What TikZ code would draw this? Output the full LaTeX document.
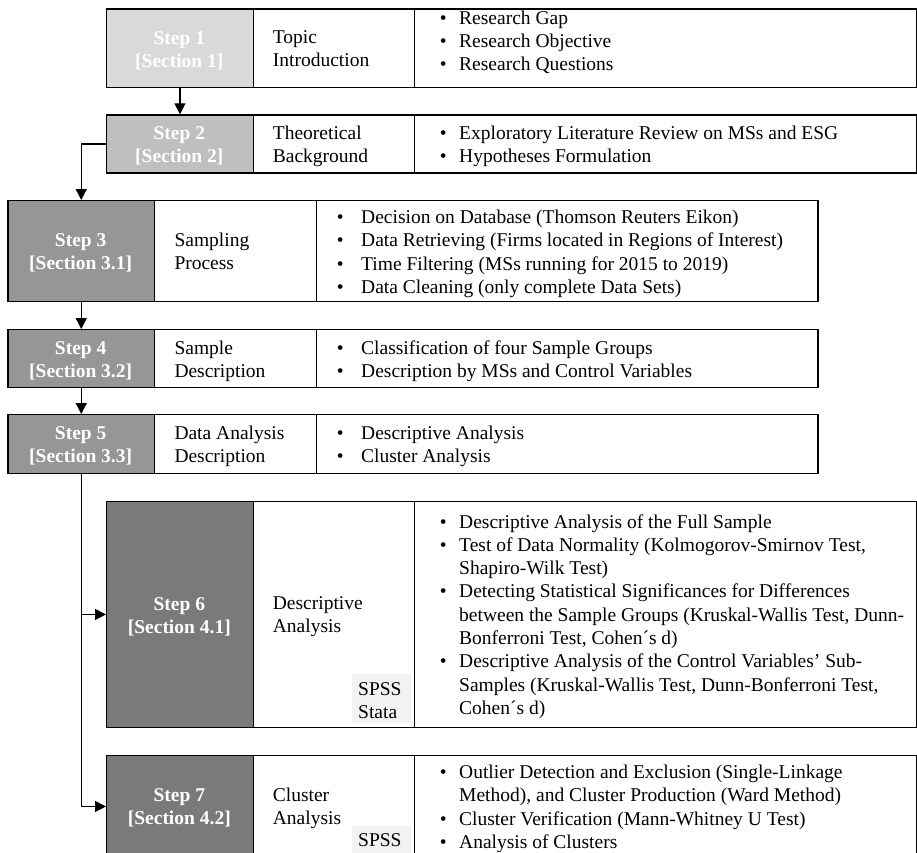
\documentclass[tikz,border=0pt]{standalone}
\usepackage{fontspec}
\setmainfont{Liberation Serif}
\usetikzlibrary{arrows.meta}
\definecolor{gA}{HTML}{D9D9D9}
\definecolor{gB}{HTML}{BFBFBF}
\definecolor{gC}{HTML}{969696}
\definecolor{gD}{HTML}{7A7A7A}
\definecolor{gS}{HTML}{F2F2F2}
\newcommand\fs{\fontsize{19.5}{23.3}\selectfont}
\newcommand\bul[1]{\makebox[#1][l]{•}}
\newcommand\ind[1]{\hspace*{#1}}
\begin{document}
\begin{tikzpicture}[x=1pt,y=-1pt,
  cell/.style={draw=black, line width=1.2pt, inner sep=0pt, anchor=north west},
  steplbl/.style={text=white, font=\fs\bfseries, anchor=base, inner sep=0pt},
  desc/.style={font=\fs, anchor=base west, inner sep=0pt},
  tool/.style={fill=gS, inner sep=0pt, anchor=north west},
  conn/.style={line width=1.3pt, -{Triangle[length=11pt,width=11pt]}}]
\useasboundingbox (0,0) rectangle (917,852);
\clip (0,0) rectangle (917,852);
% ---------- Row 1
\node[cell, fill=gA, minimum width=146.7pt, minimum height=78.4pt] (s1) at (106,8.3) {};
\node[cell, minimum width=161.3pt, minimum height=78.4pt] (d1) at (252.7,8.3) {};
\node[cell, minimum width=501.7pt, minimum height=78.4pt] (l1) at (414,8.3) {};
\node[steplbl] (t1) at (179.3,44) {\begin{tabular}[t]{@{}c@{}}Step 1\\{[Section 1]}\end{tabular}};
\node[desc] (c1) at (272.7,43) {\begin{tabular}[t]{@{}l@{}}Topic\\Introduction\end{tabular}};
\node[desc] (i1) at (439.6,24) {\begin{tabular}[t]{@{}l@{}}\bul{19.4pt}Research Gap\\\bul{19.4pt}Research Objective\\\bul{19.4pt}Research Questions\end{tabular}};
% ---------- Row 2
\node[cell, fill=gB, minimum width=146.7pt, minimum height=58pt] (s2) at (106,114.3) {};
\node[cell, minimum width=161.3pt, minimum height=58pt] (d2) at (252.7,114.3) {};
\node[cell, minimum width=501.7pt, minimum height=58pt] (l2) at (414,114.3) {};
\node[steplbl] (t2) at (179.3,139) {\begin{tabular}[t]{@{}c@{}}Step 2\\{[Section 2]}\end{tabular}};
\node[desc] (c2) at (272.7,139) {\begin{tabular}[t]{@{}l@{}}Theoretical\\Background\end{tabular}};
\node[desc] (i2) at (439.6,139) {\begin{tabular}[t]{@{}l@{}}\bul{19.4pt}Exploratory Literature Review on MSs and ESG\\\bul{19.4pt}Hypotheses Formulation\end{tabular}};
% ---------- Row 3
\node[cell, fill=gC, minimum width=146.7pt, minimum height=101pt] (s3) at (7.3,200) {};
\node[cell, minimum width=162pt, minimum height=101pt] (d3) at (154,200) {};
\node[cell, minimum width=501.3pt, minimum height=101pt] (l3) at (316,200) {};
\node[steplbl] (t3) at (80.65,246.5) {\begin{tabular}[t]{@{}c@{}}Step 3\\{[Section 3.1]}\end{tabular}};
\node[desc] (c3) at (174.3,246.5) {\begin{tabular}[t]{@{}l@{}}Sampling\\Process\end{tabular}};
\node[desc] (i3) at (336.6,223.5) {\begin{tabular}[t]{@{}l@{}}\bul{24.4pt}Decision on Database (Thomson Reuters Eikon)\\\bul{24.4pt}Data Retrieving (Firms located in Regions of Interest)\\\bul{24.4pt}Time Filtering (MSs running for 2015 to 2019)\\\bul{24.4pt}Data Cleaning (only complete Data Sets)\end{tabular}};
% ---------- Row 4
\node[cell, fill=gC, minimum width=146.7pt, minimum height=58pt] (s4) at (7.3,329) {};
\node[cell, minimum width=162pt, minimum height=58pt] (d4) at (154,329) {};
\node[cell, minimum width=501.3pt, minimum height=58pt] (l4) at (316,329) {};
\node[steplbl] (t4) at (80.65,354.5) {\begin{tabular}[t]{@{}c@{}}Step 4\\{[Section 3.2]}\end{tabular}};
\node[desc] (c4) at (174.3,354.5) {\begin{tabular}[t]{@{}l@{}}Sample\\Description\end{tabular}};
\node[desc] (i4) at (336.6,354.5) {\begin{tabular}[t]{@{}l@{}}\bul{24.4pt}Classification of four Sample Groups\\\bul{24.4pt}Description by MSs and Control Variables\end{tabular}};
% ---------- Row 5
\node[cell, fill=gC, minimum width=146.7pt, minimum height=59pt] (s5) at (7.3,414) {};
\node[cell, minimum width=162pt, minimum height=59pt] (d5) at (154,414) {};
\node[cell, minimum width=501.3pt, minimum height=59pt] (l5) at (316,414) {};
\node[steplbl] (t5) at (80.65,439.5) {\begin{tabular}[t]{@{}c@{}}Step 5\\{[Section 3.3]}\end{tabular}};
\node[desc] (c5) at (174.3,439.5) {\begin{tabular}[t]{@{}l@{}}Data Analysis\\Description\end{tabular}};
\node[desc] (i5) at (336.6,439.5) {\begin{tabular}[t]{@{}l@{}}\bul{24.4pt}Descriptive Analysis\\\bul{24.4pt}Cluster Analysis\end{tabular}};
% ---------- Row 6
\node[cell, fill=gD, minimum width=146.7pt, minimum height=226.3pt] (s6) at (106,500.7) {};
\node[cell, minimum width=161.3pt, minimum height=226.3pt] (d6) at (252.7,500.7) {};
\node[cell, minimum width=501.7pt, minimum height=226.3pt] (l6) at (414,500.7) {};
\node[steplbl] (t6) at (179.3,610) {\begin{tabular}[t]{@{}c@{}}Step 6\\{[Section 4.1]}\end{tabular}};
\node[desc] (c6) at (272.7,609.5) {\begin{tabular}[t]{@{}l@{}}Descriptive\\Analysis\end{tabular}};
\node[tool, minimum width=59pt, minimum height=49pt] (p6) at (352,674) {};
\node[desc] (q6) at (358,695.5) {\begin{tabular}[t]{@{}l@{}}SPSS\\Stata\end{tabular}};
\node[desc] (i6) at (439.6,528) {\begin{tabular}[t]{@{}l@{}}\bul{19.4pt}Descriptive Analysis of the Full Sample\\
\bul{19.4pt}Test of Data Normality (Kolmogorov-Smirnov Test,\\
\ind{19.4pt}Shapiro-Wilk Test)\\
\bul{19.4pt}Detecting Statistical Significances for Differences\\
\ind{19.4pt}between the Sample Groups (Kruskal-Wallis Test, Dunn-\\
\ind{19.4pt}Bonferroni Test, Cohen´s d)\\
\bul{19.4pt}Descriptive Analysis of the Control Variables’ Sub-\\
\ind{19.4pt}Samples (Kruskal-Wallis Test, Dunn-Bonferroni Test,\\
\ind{19.4pt}Cohen´s d)\end{tabular}};
% ---------- Row 7
\node[cell, fill=gD, minimum width=146.7pt, minimum height=102.3pt] (s7) at (106,754.7) {};
\node[cell, minimum width=161.3pt, minimum height=102.3pt] (d7) at (252.7,754.7) {};
\node[cell, minimum width=501.7pt, minimum height=102.3pt] (l7) at (414,754.7) {};
\node[steplbl] (t7) at (179.3,801.5) {\begin{tabular}[t]{@{}c@{}}Step 7\\{[Section 4.2]}\end{tabular}};
\node[desc] (c7) at (272.7,801.5) {\begin{tabular}[t]{@{}l@{}}Cluster\\Analysis\end{tabular}};
\node[tool, minimum width=59pt, minimum height=40pt] (p7) at (352,826) {};
\node[desc] (q7) at (358,846.5) {SPSS};
\node[desc] (i7) at (439.6,778.5) {\begin{tabular}[t]{@{}l@{}}\bul{19.4pt}Outlier Detection and Exclusion (Single-Linkage\\
\ind{19.4pt}Method), and Cluster Production (Ward Method)\\
\bul{19.4pt}Cluster Verification (Mann-Whitney U Test)\\
\bul{19.4pt}Analysis of Clusters\end{tabular}};
% ---------- Connectors
\draw[conn] (s1.south) -- (s2.north);
\draw[conn] (s2.west) -| (s3.north);
\draw[conn] (s3.south) -- (s4.north);
\draw[conn] (s4.south) -- (s5.north);
\draw[conn] (s5.south) |- (s6.west);
\draw[conn] (s5.south) |- (s7.west);
\end{tikzpicture}
\end{document}
